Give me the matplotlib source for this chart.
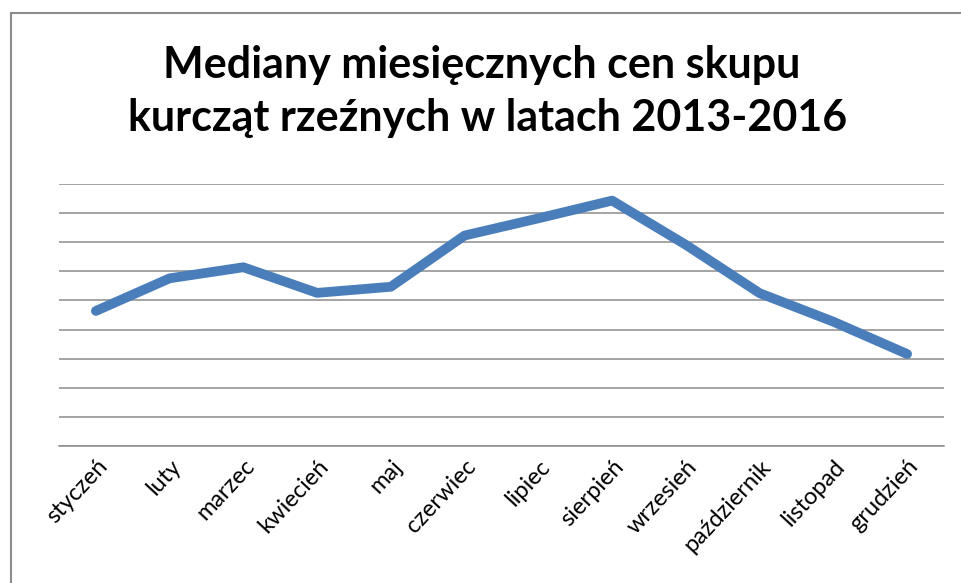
import matplotlib
matplotlib.use("Agg")
import matplotlib.pyplot as plt
from matplotlib.patches import Rectangle

months = ["styczeń", "luty", "marzec", "kwiecień", "maj", "czerwiec", "lipiec",
          "sierpień", "wrzesień", "październik", "listopad", "grudzień"]
medians = [4.64, 5.76, 6.14, 5.26, 5.47, 7.23, 7.82, 8.43, 6.91, 5.25, 4.27, 3.16]
y_ticks = list(range(0, 10))
title_lines = ["Mediany miesięcznych cen skupu", "kurcząt rzeźnych w latach 2013-2016"]

W, H = 962, 583
fig = plt.figure(figsize=(W / 100, H / 100), dpi=100)
fig.patch.set_facecolor("white")

# chart border (top and left visible, rest cropped)
fig.patches.append(Rectangle((11 / W, -0.1), 1.2, (H - 13) / H + 0.1,
                             transform=fig.transFigure, fill=False,
                             edgecolor="#8c8c8c", linewidth=1.5, zorder=0))

ax = fig.add_axes([59 / W, (H - 446) / H, (944 - 59) / W, (446 - 184) / H])
x = list(range(len(months)))
ax.plot(x, medians, color="#4a7ebb", linewidth=7.0, solid_capstyle="round",
        solid_joinstyle="round", zorder=3)

ax.set_xlim(-0.5, len(months) - 0.5)
ax.set_ylim(0, 9)
ax.set_yticks(y_ticks)
ax.yaxis.grid(True, color="#8c8c8c", linewidth=1.1)
ax.set_yticklabels([])
ax.tick_params(axis="y", length=0)
ax.tick_params(axis="x", length=0, pad=7)
for s in ["top", "right", "left"]:
    ax.spines[s].set_visible(False)
ax.spines["bottom"].set_color("#8c8c8c")
ax.spines["bottom"].set_linewidth(1.1)
ax.set_axisbelow(True)

ax.set_xticks(x)
ax.set_xticklabels(months, rotation=47, ha="right", va="top",
                   rotation_mode="anchor", fontsize=17, family="Lato")

fig.text(482 / W, 1 - 78 / H, title_lines[0], ha="center", va="baseline",
         fontsize=31, fontweight="bold", family="Lato")
fig.text(488 / W, 1 - 131 / H, title_lines[1], ha="center", va="baseline",
         fontsize=31, fontweight="bold", family="Lato")

fig.savefig("out.png", dpi=100, facecolor="white")
